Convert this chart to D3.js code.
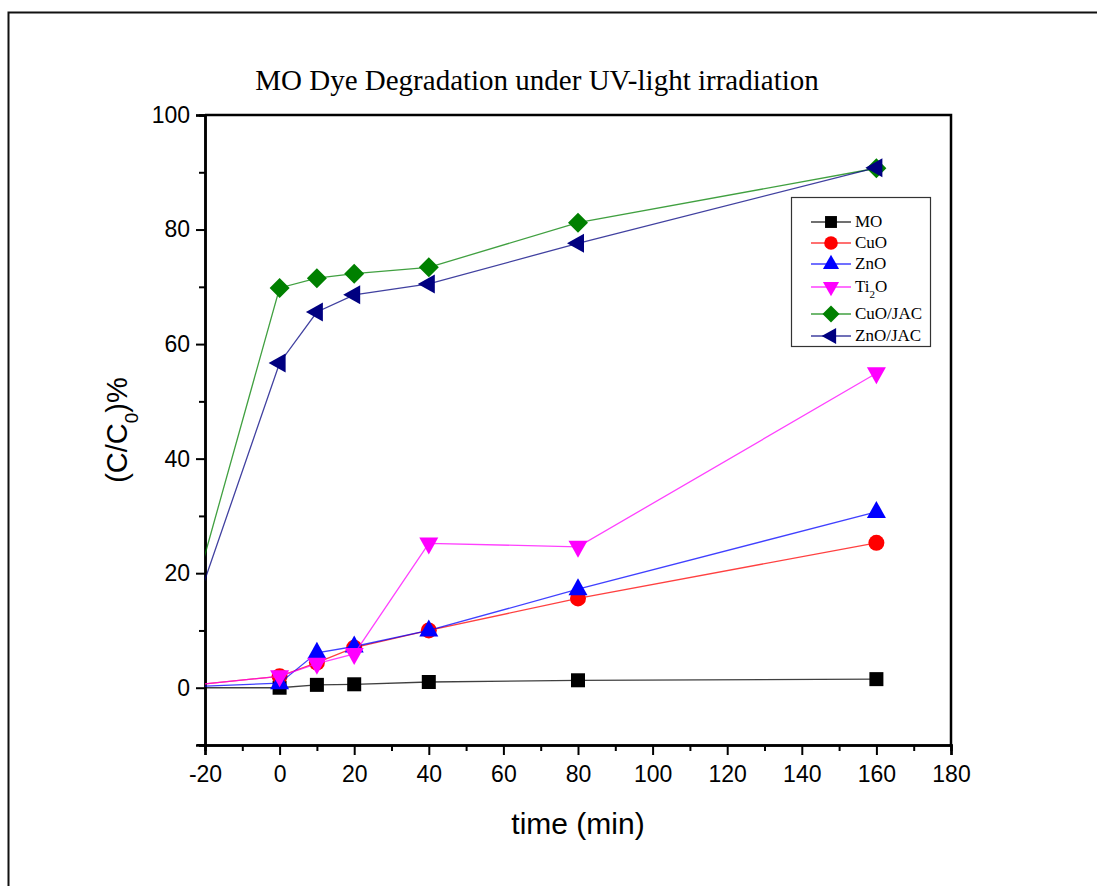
<!DOCTYPE html>
<html>
<head>
<meta charset="utf-8">
<script src="https://cdn.jsdelivr.net/npm/d3@7"></script>
<style>
body { margin: 0; background: #fff; }
</style>
</head>
<body>
<script>
// Data, every series starts from 0 at t = -30 (clipped)
var times = [-30, 0, 10, 20, 40, 80, 160];
var seriesNames = ["MO", "CuO", "ZnO", "Ti2O", "CuO/JAC", "ZnO/JAC"];
var moVals = [0, 0, 0.5, 0.6, 1.0, 1.3, 1.5];
var cuoVals = [0, 2.0, 4.4, 7.0, 10.0, 15.6, 25.3];
var znoVals = [0, 0.8, 6.1, 7.2, 10.0, 17.2, 30.7];
var ti2oVals = [0, 2.0, 4.2, 5.9, 25.2, 24.6, 54.9];
var cuojacVals = [0, 69.8, 71.5, 72.3, 73.4, 81.2, 90.7];
var znojacVals = [0, 56.7, 65.6, 68.6, 70.5, 77.6, 90.8];
var xTicks = [-20, 0, 20, 40, 60, 80, 100, 120, 140, 160, 180];
var yTicks = [0, 20, 40, 60, 80, 100];

var colors = ["#000000", "#ff0000", "#0000ff", "#ff00ff", "#008000", "#000080"];
var allVals = [moVals, cuoVals, znoVals, ti2oVals, cuojacVals, znojacVals];

// Sizes
var W = 1097, H = 886;
var pLeft = 205, pRight = 951, pTop = 115, pBottom = 745;

var svg = d3.select("body").append("svg")
    .attr("width", W)
    .attr("height", H);

// outer frame (left + top only)
svg.append("path")
    .attr("d", "M8.5," + H + "V12.5H" + W)
    .attr("fill", "none")
    .attr("stroke", "#111")
    .attr("stroke-width", 2);

var x = d3.scaleLinear().domain([-20, 180]).range([pLeft, pRight]);
var y = d3.scaleLinear().domain([-10, 100]).range([pBottom, pTop]);

// clip for lines
svg.append("clipPath").attr("id", "plotclip")
    .append("rect")
    .attr("x", pLeft).attr("y", pTop - 20)
    .attr("width", pRight - pLeft + 20).attr("height", pBottom - pTop + 20);

// Title
svg.append("text")
    .attr("x", 537)
    .attr("y", 90)
    .attr("text-anchor", "middle")
    .style("font-family", "'Liberation Serif', 'Times New Roman', serif")
    .style("font-size", "29px")
    .text("MO Dye Degradation under UV-light irradiation");

// Axes
var fmt = function(d) { return String(d); };
var xAxis = d3.axisBottom(x).tickValues(xTicks).tickSize(10).tickPadding(11).tickFormat(fmt);
var xMinor = d3.axisBottom(x).tickValues(d3.range(-10, 180, 20)).tickSize(6).tickFormat("");
var yAxis = d3.axisLeft(y).tickValues(yTicks).tickSize(9).tickPadding(6).tickFormat(fmt);
var yMinor = d3.axisLeft(y).tickValues(d3.range(-10, 100, 20)).tickSize(6).tickFormat("");

svg.append("g").attr("transform", "translate(0," + pBottom + ")").call(xAxis);
svg.append("g").attr("transform", "translate(0," + pBottom + ")").call(xMinor);
svg.append("g").attr("transform", "translate(" + pLeft + ",0)").call(yAxis);
svg.append("g").attr("transform", "translate(" + pLeft + ",0)").call(yMinor);

// -10 on y gets a longer tick like the figure
svg.append("line")
    .attr("x1", pLeft - 8).attr("x2", pLeft)
    .attr("y1", y(-10)).attr("y2", y(-10))
    .attr("stroke", "#000").attr("stroke-width", 2);

svg.selectAll(".domain").attr("stroke-width", 2.5).attr("stroke", "#000");
svg.selectAll(".tick line").attr("stroke-width", 2).attr("stroke", "#000");
svg.selectAll(".tick text")
    .style("font-family", "'Liberation Sans', Arial, sans-serif")
    .style("font-size", "23px")
    .attr("fill", "#000");

// top and right frame
svg.append("path")
    .attr("d", "M" + pLeft + "," + pTop + "H" + pRight + "V" + pBottom)
    .attr("fill", "none")
    .attr("stroke", "#000")
    .attr("stroke-width", 2.5);

// axis titles
svg.append("text")
    .attr("x", 578)
    .attr("y", 834)
    .attr("text-anchor", "middle")
    .style("font-family", "'Liberation Sans', Arial, sans-serif")
    .style("font-size", "30px")
    .text("time (min)");

var ylab = svg.append("text")
    .attr("transform", "translate(127,430) rotate(-90)")
    .attr("text-anchor", "middle")
    .style("font-family", "'Liberation Sans', Arial, sans-serif")
    .style("font-size", "29px");
ylab.append("tspan").text("(C/C");
ylab.append("tspan").attr("baseline-shift", "sub").style("font-size", "19px").text("0");
ylab.append("tspan").text(")%");

// markers
function marker(g, i, size) {
    var s = size || 1;
    if (i === 0) {
        g.append("rect").attr("x", -7 * s).attr("y", -7 * s).attr("width", 14 * s).attr("height", 14 * s);
    } else if (i === 1) {
        g.append("circle").attr("r", 8 * s);
    } else if (i === 2) {
        g.append("path").attr("d", "M0," + (-11 * s) + "L" + (9.5 * s) + "," + (6 * s) + "L" + (-9.5 * s) + "," + (6 * s) + "Z");
    } else if (i === 3) {
        g.append("path").attr("d", "M0," + (11 * s) + "L" + (9.5 * s) + "," + (-6 * s) + "L" + (-9.5 * s) + "," + (-6 * s) + "Z");
    } else if (i === 4) {
        g.append("path").attr("d", "M0," + (-10 * s) + "L" + (10 * s) + ",0L0," + (10 * s) + "L" + (-10 * s) + ",0Z");
    } else {
        g.append("path").attr("d", "M" + (-11 * s) + ",0L" + (6 * s) + "," + (-9.5 * s) + "L" + (6 * s) + "," + (9.5 * s) + "Z");
    }
    g.selectAll("*").attr("fill", colors[i]);
}

var line = d3.line()
    .x(function(d) { return x(d[0]); })
    .y(function(d) { return y(d[1]); });

allVals.forEach(function(vals, i) {
    var pts = times.map(function(t, k) { return [t, vals[k]]; });
    svg.append("path")
        .datum(pts)
        .attr("clip-path", "url(#plotclip)")
        .attr("d", line)
        .attr("fill", "none")
        .attr("stroke", colors[i])
        .attr("stroke-opacity", 0.75)
        .attr("stroke-width", 1.3);
    svg.selectAll(".m" + i)
        .data(pts.filter(function(p) { return p[0] >= -20; }))
        .enter()
        .append("g")
        .attr("class", "m" + i)
        .attr("transform", function(d) { return "translate(" + x(d[0]) + "," + y(d[1]) + ")"; })
        .each(function() { marker(d3.select(this), i); });
});

// Legend
var lg = svg.append("g");
lg.append("rect")
    .attr("x", 791.5).attr("y", 197.5)
    .attr("width", 139).attr("height", 149)
    .attr("fill", "#fff")
    .attr("stroke", "#333")
    .attr("stroke-width", 1.2);
var legY = [222, 243, 264, 287, 314, 336];
seriesNames.forEach(function(name, i) {
    var row = lg.append("g").attr("transform", "translate(0," + legY[i] + ")");
    row.append("line")
        .attr("x1", 811).attr("x2", 851)
        .attr("stroke", colors[i])
        .attr("stroke-opacity", 0.75)
        .attr("stroke-width", 1.3);
    var mg = row.append("g").attr("transform", "translate(831,0)");
    marker(mg, i, 0.85);
    var t = row.append("text")
        .attr("x", 855)
        .attr("y", 5)
        .style("font-family", "'Liberation Serif', 'Times New Roman', serif")
        .style("font-size", "17px");
    if (name === "Ti2O") {
        t.append("tspan").text("Ti");
        t.append("tspan").attr("baseline-shift", "sub").style("font-size", "11px").text("2");
        t.append("tspan").text("O");
    } else {
        t.text(name);
    }
});
</script>
</body>
</html>
